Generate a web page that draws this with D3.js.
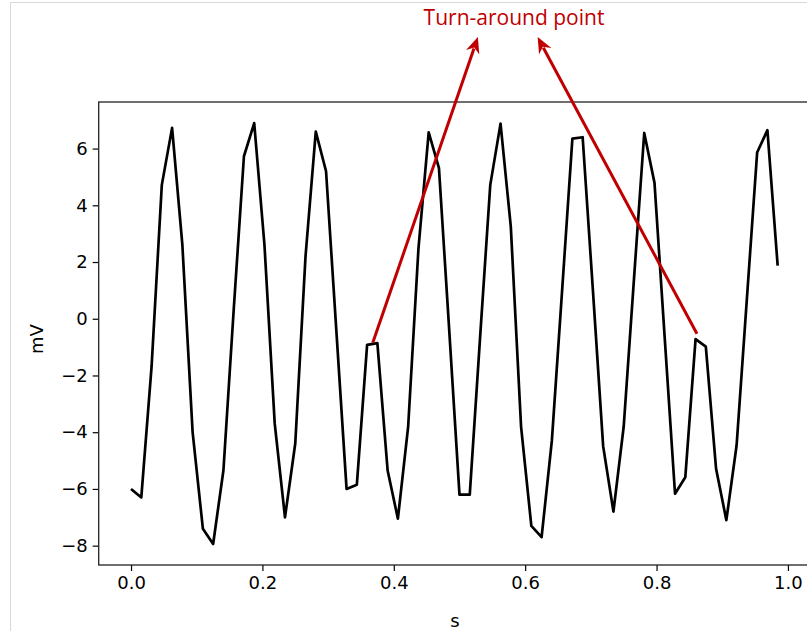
<!DOCTYPE html>
<html>
<head>
<meta charset="utf-8">
<script src="https://cdn.jsdelivr.net/npm/d3@7"></script>
<style>
  html, body { margin: 0; padding: 0; background: #ffffff; overflow: hidden; }
  svg { display: block; }
</style>
</head>
<body>
<svg id="chart" width="807" height="631"></svg>
<script>
// ---- data (sampled signal, 64 samples at 1/64 s) ----
const sampleRate = 64;
const values = [
  -6.0, -6.3, -1.7, 4.72, 6.73, 2.61, -4.0, -7.4, -7.94, -5.35,
  0.3, 5.73, 6.9, 2.6, -3.7, -7.0, -4.4, 2.2, 6.6, 5.2,
  -0.4, -6.0, -5.85, -0.92, -0.86, -5.35, -7.05, -3.8, 2.46, 6.57,
  5.31, -0.4, -6.2, -6.2, -0.7, 4.72, 6.88, 3.25, -3.8, -7.3,
  -7.7, -4.3, 1.0, 6.35, 6.4, 1.0, -4.5, -6.8, -3.8, 1.4,
  6.55, 4.79, -0.7, -6.17, -5.59, -0.72, -0.98, -5.29, -7.1, -4.46,
  0.7, 5.86, 6.65, 1.87
];
const times = values.map((v, i) => i / sampleRate);
const xTicks = [0.0, 0.2, 0.4, 0.6, 0.8, 1.0];
const yTicks = [-8, -6, -4, -2, 0, 2, 4, 6];
const xLabel = "s";
const yLabel = "mV";
const annotationText = "Turn-around point";

// ---- layout ----
const svg = d3.select("#chart");
const W = 807, H = 631;
const plot = { left: 98.7, top: 102, bottom: 565, right: 810 };
const red = "#c00000";

// outer frame of the captured output cell
svg.append("rect")
  .attr("x", 10.5).attr("y", 2.5)
  .attr("width", W + 20).attr("height", H + 20)
  .attr("fill", "#ffffff").attr("stroke", "#d9d9d9").attr("stroke-width", 1);

// scales with 5% margins (matplotlib-style)
const tMin = d3.min(times), tMax = d3.max(times);
const vMin = d3.min(values), vMax = d3.max(values);
const tPad = (tMax - tMin) * 0.05, vPad = (vMax - vMin) * 0.05;
const x = d3.scaleLinear().domain([tMin - tPad, tMax + tPad]).range([plot.left, plot.right]);
const y = d3.scaleLinear().domain([vMin - vPad, vMax + vPad]).range([plot.bottom, plot.top]);

const font = "'DejaVu Sans', sans-serif";

// axes
const xAxis = svg.append("g")
  .attr("transform", `translate(0,${plot.bottom})`)
  .call(d3.axisBottom(x).tickValues(xTicks).tickFormat(d3.format(".1f")).tickSize(6).tickPadding(5));
const yAxis = svg.append("g")
  .attr("transform", `translate(${plot.left},0)`)
  .call(d3.axisLeft(y).tickValues(yTicks).tickFormat(d3.format("d")).tickSize(6).tickPadding(5));
[xAxis, yAxis].forEach(g => {
  g.select(".domain").remove();
  g.selectAll(".tick line").attr("stroke", "#000").attr("stroke-width", 1.2);
  g.selectAll(".tick text").attr("fill", "#000").style("font-family", font).style("font-size", "18px");
});

// clip for the data line
svg.append("clipPath").attr("id", "clip")
  .append("rect").attr("x", plot.left).attr("y", plot.top)
  .attr("width", plot.right - plot.left).attr("height", plot.bottom - plot.top);

const line = d3.line().x((d, i) => x(times[i])).y(d => y(d));
svg.append("path")
  .datum(values)
  .attr("clip-path", "url(#clip)")
  .attr("d", line)
  .attr("fill", "none")
  .attr("stroke", "#000")
  .attr("stroke-width", 2.7)
  .attr("stroke-linejoin", "round");

// spines
svg.append("rect")
  .attr("x", plot.left).attr("y", plot.top)
  .attr("width", plot.right - plot.left).attr("height", plot.bottom - plot.top)
  .attr("fill", "none").attr("stroke", "#222").attr("stroke-width", 1.3);

// axis labels
svg.append("text")
  .attr("x", 455).attr("y", 627)
  .attr("text-anchor", "middle")
  .style("font-family", font).style("font-size", "18px")
  .text(xLabel);
svg.append("text")
  .attr("transform", `translate(43,339) rotate(-90)`)
  .attr("text-anchor", "middle")
  .style("font-family", font).style("font-size", "18px")
  .text(yLabel);

// annotation: text and two arrows pointing from turn-around points up to the label
const textPos = { t: 0.583, v: 10.64 };
const arrows = [
  { from: { t: 0.368, v: -0.85 }, to: { t: 0.528, v: 9.93 } },
  { from: { t: 0.8615, v: -0.53 }, to: { t: 0.619, v: 9.93 } }
];
svg.append("text")
  .attr("x", x(textPos.t)).attr("y", 25)
  .attr("text-anchor", "middle")
  .attr("fill", red)
  .style("font-family", "'Open Sans', sans-serif").style("font-size", "21px")
  .text(annotationText);

arrows.forEach(a => {
  const x0 = x(a.from.t), y0 = y(a.from.v);
  const x1 = x(a.to.t), y1 = y(a.to.v);
  const ang = Math.atan2(y1 - y0, x1 - x0);
  const headLen = 16;
  svg.append("line")
    .attr("x1", x0).attr("y1", y0)
    .attr("x2", x1 - Math.cos(ang) * (headLen - 4)).attr("y2", y1 - Math.sin(ang) * (headLen - 4))
    .attr("stroke", red).attr("stroke-width", 3);
  svg.append("path")
    .attr("d", `M0,0 L${-headLen},${-7} L${-headLen + 5},0 L${-headLen},${7} Z`)
    .attr("transform", `translate(${x1},${y1}) rotate(${ang * 180 / Math.PI})`)
    .attr("fill", red);
});
</script>
</body>
</html>
